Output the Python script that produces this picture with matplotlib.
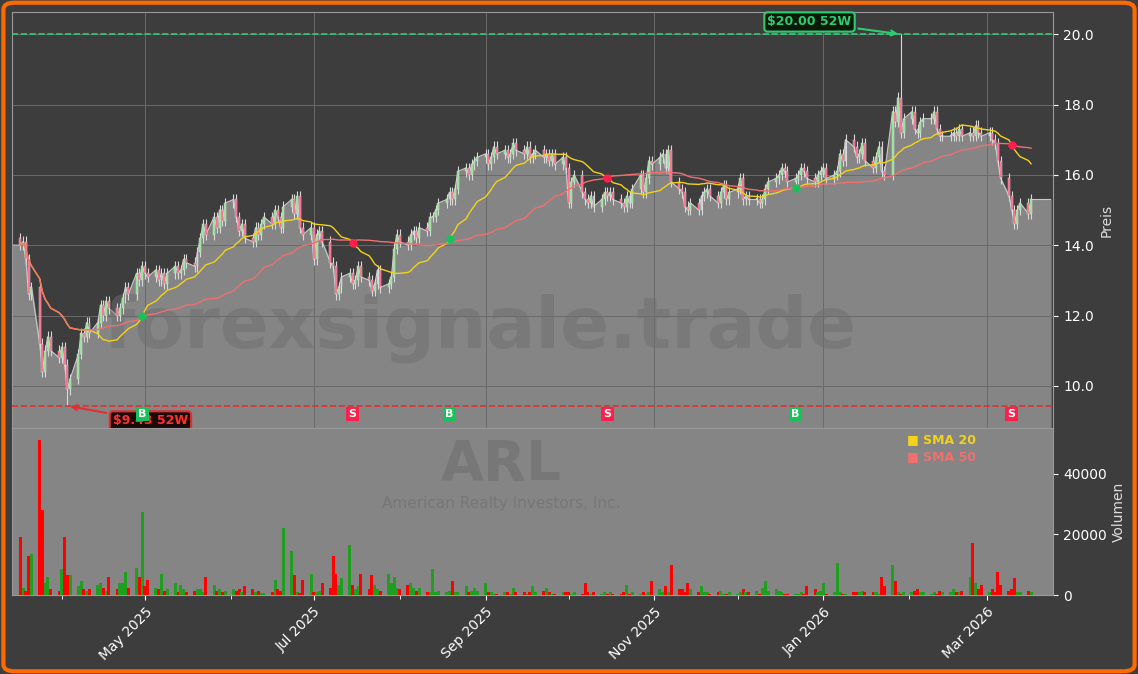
import numpy as np
import pandas as pd
import matplotlib
matplotlib.use('Agg')
import matplotlib.pyplot as plt
import matplotlib.dates as mdates
from matplotlib.patches import FancyBboxPatch

# daily closes, one row per week (Mon..Fri), starting 2025-03-17
close = [
    14.0, 14.1, 13.6, 12.6, 12.8,
    11.2, 10.4, 11.0, 11.4, 11.0,
    10.8, 11.1, 10.6, 9.9, 10.2,
    10.9, 11.5, 11.4, 11.8, 11.5,
    11.8, 12.3, 12.0, 12.4, 12.2,
    12.0, 12.2, 12.5, 12.8, 12.6,
    13.2, 13.0, 13.4, 13.2, 13.1,
    13.3, 13.0, 13.2, 12.9, 13.2,
    13.4, 13.2, 13.3, 13.6, 13.5,
    13.4, 13.8, 14.2, 14.6, 14.3,
    14.8, 14.5, 15.0, 14.7, 15.2,
    15.3, 14.8, 14.4, 14.6, 14.2,
    14.1, 14.5, 14.3, 14.6, 14.8,
    14.6, 15.0, 14.8, 14.5, 15.1,
    15.3, 14.9, 15.4, 14.5, 14.3,
    14.5, 13.6, 14.3, 14.4, 14.1,
    13.5, 13.4, 12.6, 12.8, 13.1,
    13.2, 12.9, 13.0, 13.4, 13.1,
    13.0, 12.7, 12.9, 13.3, 12.8,
    12.9, 13.1, 13.9, 14.3, 14.1,
    14.0, 14.3, 14.4, 14.2, 14.5,
    14.4, 14.8, 14.8, 15.0, 15.2,
    15.3, 15.5, 15.3, 15.6, 16.1,
    16.2, 16.0, 16.3, 16.4, 16.5,
    16.6, 16.3, 16.5, 16.8, 16.6,
    16.7, 16.5, 16.6, 16.9, 16.7,
    16.6, 16.8, 16.5, 16.6, 16.7,
    16.5, 16.6, 16.4, 16.6, 16.3,
    16.5, 16.2, 15.2, 15.8, 16.0,
    15.5, 15.3, 15.2, 15.4, 15.1,
    15.3, 15.5, 15.4, 15.5, 15.3,
    15.2, 15.1, 15.4, 15.2, 15.6,
    16.0, 15.5, 15.9, 16.4, 16.3,
    16.5, 16.6, 16.2, 16.7, 15.8,
    15.6, 15.5, 15.1, 15.0, 15.2,
    15.0, 15.4, 15.5, 15.6, 15.4,
    15.2, 15.5, 15.7, 15.3, 15.5,
    15.6, 15.9, 15.3, 15.4, 15.3,
    15.3, 15.2, 15.3, 15.6, 15.8,
    15.9, 16.0, 16.2, 16.1, 15.8,
    15.9, 16.0, 16.2, 16.1, 15.9,
    15.8, 16.0, 16.1, 16.2, 15.9,
    16.0, 16.1, 16.6, 16.4, 17.0,
    16.8, 16.5, 16.6, 16.9, 16.4,
    16.2, 16.5, 16.8, 16.1, 16.0,
    17.8, 17.5, 18.2, 17.2, 17.6,
    17.8, 17.3, 17.2, 17.5, 17.6,
    17.6, 17.8, 17.3, 17.1, 17.1,
    17.1, 17.2, 17.1, 17.3, 17.1,
    17.2, 17.1, 17.4, 17.2, 17.1,
    17.2, 17.0, 16.9, 16.4, 15.9,
    15.4, 15.0, 14.6, 15.0, 15.2,
    14.9, 15.3,
]
# volume in thousands, same layout
volume_k = [
    19, 2.5, 1.5, 13, 13.5,
    51, 28, 4, 6, 2,
    1.5, 8.5, 19, 6.5, 6.5,
    3, 4.5, 2, 1.5, 2,
    3.5, 4, 2.5, 1.5, 6,
    2, 4, 4, 7.5, 2.5,
    9, 6, 27.5, 3, 5,
    2.5, 2, 7, 1.5, 2,
    4, 1, 3.5, 2, 1,
    1.5, 2, 2, 1, 6,
    3.5, 1.5, 2, 1, 1.5,
    2, 1.5, 2, 1, 3,
    2, 1, 1.5, 0.8, 0.8,
    1, 5, 2, 1.5, 22,
    14.5, 6.5, 1, 0.8, 5,
    7, 1, 1, 1.5, 4,
    2.5, 13, 7, 3.5, 5.5,
    16.5, 3.5, 2, 3, 7,
    2, 6.5, 3.5, 2, 1.5,
    7, 4, 6, 2.5, 2,
    3.5, 4, 2.5, 1.5, 2.5,
    1, 1, 8.5, 1, 1.5,
    1, 1.5, 4.5, 1, 1,
    3, 1, 1.5, 2.5, 1.5,
    4, 1, 1, 0.5, 0.5,
    1, 1, 0.5, 2.5, 1,
    1, 0.5, 1, 3, 1,
    1.5, 2.5, 1, 0.5, 0.5,
    1, 1, 1, 0.5, 1,
    0.5, 4, 1, 0.5, 1,
    0.5, 1, 0.5, 1, 0.5,
    0.5, 1, 3.5, 0.5, 1,
    0.5, 1, 0.5, 1, 4.5,
    2, 1, 3, 1, 10,
    2, 2, 1, 4, 2,
    1, 3, 1, 1, 0.5,
    1, 1.5, 0.5, 0.5, 1,
    0.5, 1, 2, 1, 1,
    1.5, 0.5, 2.5, 4.5, 1.5,
    2, 1.5, 1, 0.5, 0.5,
    0.5, 0.5, 1, 0.5, 3,
    2, 1, 1.5, 4, 0.5,
    1, 10.5, 1, 0.5, 0.5,
    1, 1, 1, 1.5, 1,
    1, 1, 0.5, 6, 3,
    10, 4.5, 1, 0.5, 1,
    1, 1.5, 2, 1, 1,
    0.5, 1, 0.5, 1.5, 1,
    1, 2, 1, 1, 1.5,
    6, 17, 4, 2, 3.5,
    1, 2, 1, 7.5, 3.5,
    1.5, 2, 5.5, 1, 1,
    1.5, 1,
]
high_52w = 20.00
low_52w = 9.43
high_date = '2026-01-29'
low_date = '2025-04-03'

dates = pd.bdate_range('2025-03-17', periods=len(close))
df = pd.DataFrame({'close': close, 'vol': np.array(volume_k) * 1000}, index=dates)
df['open'] = df['close'].shift(1).fillna(14.2)
df['high'] = df[['open', 'close']].max(axis=1) + 0.15
df['low'] = df[['open', 'close']].min(axis=1) - 0.15
df.loc[high_date, 'high'] = high_52w
df.loc[low_date, 'low'] = low_52w
df['sma20'] = df['close'].rolling(20, min_periods=1).mean()
df['sma50'] = df['close'].rolling(50, min_periods=1).mean()

BG = '#3d3d3d'
fig = plt.figure(figsize=(11.38, 6.74), dpi=100, facecolor=BG)
fig.patches.append(FancyBboxPatch((0.003, 0.004), 0.994, 0.992, boxstyle='round,pad=0,rounding_size=0.01',
                                  transform=fig.transFigure, fill=False, ec='#ff6a00', lw=3))
ax = fig.add_axes([0.0105, 0.365, 0.915, 0.617], facecolor=BG)
axv = fig.add_axes([0.0105, 0.117, 0.915, 0.248], facecolor='#858585', sharex=ax)

x0 = mdates.date2num(pd.Timestamp('2025-03-14'))
x1 = mdates.date2num(pd.Timestamp('2026-03-24'))
x = mdates.date2num(df.index)
xa = np.concatenate([[x0], x, [x1]])
ya = np.concatenate([[df['close'].values[0]], df['close'].values, [df['close'].values[-1]]])
ax.fill_between(xa, 0, ya, color='#858585', zorder=1)
ax.plot(xa, ya, color='#c8c8c8', lw=0.8, zorder=2)

up = df['close'] >= df['open']
for xi, (_, r), u in zip(x, df.iterrows(), up):
    col = '#8fe38f' if u else '#ff5c85'
    ax.vlines(xi, r['low'], r['high'], color='#d8d8d8', lw=0.8, zorder=3)
    ax.bar(xi, max(abs(r['close'] - r['open']), 0.03), bottom=min(r['open'], r['close']),
           width=0.7, color=col, edgecolor='#e0e0e0', lw=0.3, zorder=4)

ax.plot(x, df['sma20'], color='#f2d21b', lw=1.0, zorder=5)
ax.plot(x, df['sma50'], color='#f07070', lw=1.0, zorder=5)

diff = np.sign(df['sma20'].values - df['sma50'].values)
for i in range(25, len(diff)):
    if diff[i] != diff[i - 1] and diff[i] != 0:
        buy = diff[i] > 0
        col = '#18c25a' if buy else '#ff1f4b'
        ax.plot(x[i], df['sma20'].values[i], 'o', color=col, ms=5, zorder=6)
        ax.text(x[i], 9.2, 'B' if buy else 'S', color='white', fontsize=8, fontweight='bold',
                ha='center', va='center', zorder=7,
                bbox=dict(boxstyle='square,pad=0.2', fc=col, ec='none'))

ax.axhline(high_52w, color='#2ecc71', ls='--', lw=1.2, zorder=3)
ax.axhline(low_52w, color='#e03030', ls='--', lw=1.2, zorder=3)
hx = mdates.date2num(pd.Timestamp(high_date))
lx = mdates.date2num(pd.Timestamp(low_date))
ax.annotate(f'${high_52w:.2f} 52W', xy=(hx, high_52w), xytext=(hx - 33, 20.35),
            color='#2ecc71', fontsize=9, fontweight='bold', ha='center', va='center',
            bbox=dict(boxstyle='round,pad=0.25', fc='#0a1a0a', ec='#2ecc71', lw=1.5),
            arrowprops=dict(arrowstyle='->', color='#2ecc71', lw=1.5), zorder=8)
ax.annotate(f'${low_52w:.2f} 52W', xy=(lx, low_52w), xytext=(lx + 30, 9.0),
            color='#ff3030', fontsize=9, fontweight='bold', ha='center', va='center',
            bbox=dict(boxstyle='round,pad=0.25', fc='#1a0a0a', ec='#e03030', lw=1.5),
            arrowprops=dict(arrowstyle='->', color='#e03030', lw=1.5), zorder=6)

ax.text(0.45, 0.24, 'forexsignale.trade', transform=ax.transAxes, fontsize=52, fontweight='bold',
        color='#6e6e6e', alpha=0.5, ha='center', va='center', zorder=2)

ax.set_ylim(8.8, 20.63)
ax.set_xlim(x0, x1 + 1)
ax.yaxis.tick_right()
ax.yaxis.set_label_position('right')
ax.set_ylabel('Preis', color='#dddddd', fontsize=10)
ax.set_yticks([10, 12, 14, 16, 18, 20])
ax.yaxis.set_major_formatter(matplotlib.ticker.FormatStrFormatter('%.1f'))
ax.grid(True, color='#6a6a6a', lw=0.7)
ax.tick_params(axis='y', colors='white', labelsize=10)
ax.tick_params(axis='x', labelbottom=False, length=0)
for s in ax.spines.values():
    s.set_color('#999999')

vcol = np.where(up, '#1f9e1f', '#ff0000')
axv.bar(x, df['vol'], width=1.1, color=vcol, zorder=3)
axv.set_ylim(0, 55000)
axv.yaxis.tick_right()
axv.yaxis.set_label_position('right')
axv.set_ylabel('Volumen', color='#dddddd', fontsize=10)
axv.set_yticks([0, 20000, 40000])
axv.tick_params(axis='y', colors='white', labelsize=10)
axv.tick_params(axis='x', colors='white', labelsize=10)
axv.xaxis.set_major_locator(mdates.MonthLocator(bymonth=[1, 3, 5, 7, 9, 11]))
axv.xaxis.set_minor_locator(mdates.MonthLocator())
axv.xaxis.set_major_formatter(mdates.DateFormatter('%b %Y'))
axv.tick_params(axis='x', which='minor', colors='white', length=3)
plt.setp(axv.get_xticklabels(), rotation=45, ha='right', rotation_mode='anchor')
for s in axv.spines.values():
    s.set_color('#999999')
axv.text(0.47, 0.78, 'ARL', transform=axv.transAxes, fontsize=40, fontweight='bold',
         color='#777777', ha='center', va='center', zorder=1)
axv.text(0.47, 0.55, 'American Realty Investors, Inc.', transform=axv.transAxes, fontsize=11,
         color='#777777', ha='center', va='center', zorder=1)
axv.text(0.86, 0.93, '■ SMA 20', transform=axv.transAxes, color='#f2d21b', fontsize=9,
         fontweight='bold', va='center')
axv.text(0.86, 0.83, '■ SMA 50', transform=axv.transAxes, color='#f07070', fontsize=9,
         fontweight='bold', va='center')

fig.savefig('out.png', dpi=100, facecolor=BG)
